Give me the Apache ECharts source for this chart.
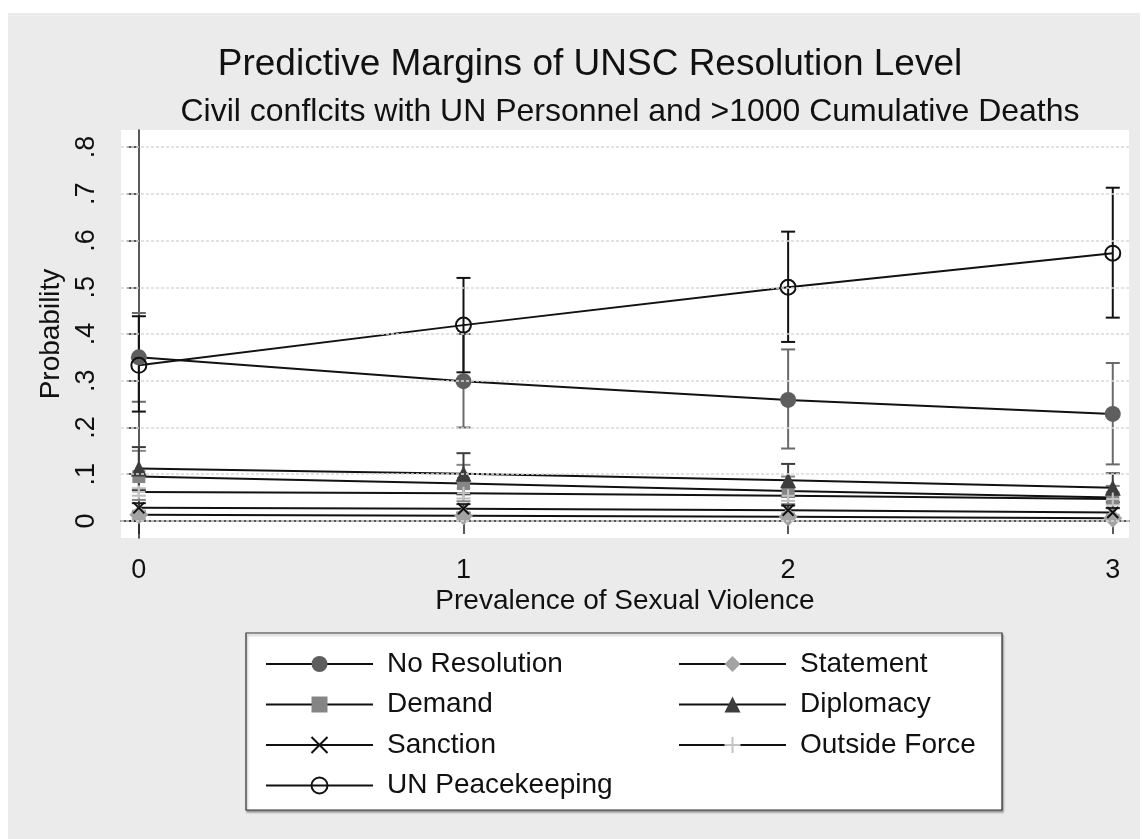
<!DOCTYPE html>
<html>
<head>
<meta charset="utf-8">
<script src="https://cdn.jsdelivr.net/npm/echarts@6/dist/echarts.min.js"></script>
<style>
  html, body { margin: 0; padding: 0; background: #fff; }
  #chart { width: 1143px; height: 839px; }
</style>
</head>
<body>
<div id="chart"></div>
<script>
// prevalence levels and axis ticks
const xValues = [0, 1, 2, 3];
const xTicks = [0, 1, 2, 3];
const yTicks = [0, 0.1, 0.2, 0.3, 0.4, 0.5, 0.6, 0.7, 0.8];

// predicted probabilities
const noResolution   = [0.350, 0.299, 0.259, 0.229];
const statement      = [0.013, 0.011, 0.009, 0.006];
const demand         = [0.095, 0.080, 0.064, 0.050];
const diplomacy      = [0.112, 0.101, 0.087, 0.071];
const sanction       = [0.028, 0.026, 0.023, 0.018];
const outsideForce   = [0.062, 0.059, 0.054, 0.047];
const unPeacekeeping = [0.333, 0.419, 0.500, 0.573];

// 95% confidence limits
const noResolutionLo   = [0.255, 0.200, 0.155, 0.121];
const noResolutionHi   = [0.445, 0.400, 0.367, 0.338];
const statementLo      = [0.004, 0.003, 0.002, 0.000];
const statementHi      = [0.022, 0.019, 0.016, 0.013];
const demandLo         = [0.045, 0.042, 0.036, 0.027];
const demandHi         = [0.150, 0.120, 0.095, 0.075];
const diplomacyLo      = [0.066, 0.057, 0.052, 0.040];
const diplomacyHi      = [0.158, 0.145, 0.122, 0.102];
const sanctionLo       = [0.018, 0.016, 0.013, 0.008];
const sanctionHi       = [0.038, 0.036, 0.033, 0.028];
const outsideForceLo   = [0.054, 0.048, 0.043, 0.035];
const outsideForceHi   = [0.070, 0.070, 0.065, 0.060];
const unPeacekeepingLo = [0.234, 0.318, 0.383, 0.435];
const unPeacekeepingHi = [0.438, 0.520, 0.619, 0.713];

const leftNames  = ['No Resolution', 'Demand', 'Sanction', 'UN Peacekeeping'];
const rightNames = ['Statement', 'Diplomacy', 'Outside Force'];

const FONT = '"Liberation Sans", Arial, Helvetica, sans-serif';

// marker looks, one per outcome
const looks = {
  'No Resolution':   { vals: noResolution, lo: noResolutionLo, hi: noResolutionHi, symbol: 'circle', size: 16, fill: '#5e5e5e', stroke: null, bar: '#6a6a6a' },
  'Statement':       { vals: statement, lo: statementLo, hi: statementHi, symbol: 'diamond', size: 19, fill: '#a3a3a3', stroke: null, bar: '#a3a3a3' },
  'Demand':          { vals: demand, lo: demandLo, hi: demandHi, symbol: 'rect', size: 13, fill: '#858585', stroke: null, bar: '#858585' },
  'Diplomacy':       { vals: diplomacy, lo: diplomacyLo, hi: diplomacyHi, symbol: 'triangle', size: 16, fill: '#3d3d3d', stroke: null, bar: '#3d3d3d' },
  'Sanction':        { vals: sanction, lo: sanctionLo, hi: sanctionHi, symbol: 'path://M0,0L10,10M0,10L10,0', size: 11, fill: 'rgba(0,0,0,0)', stroke: '#111', bar: '#222' },
  'Outside Force':   { vals: outsideForce, lo: outsideForceLo, hi: outsideForceHi, symbol: 'path://M5,0L5,10M0,5L10,5', size: 13, fill: 'rgba(0,0,0,0)', stroke: '#c4c4c4', bar: '#bdbdbd' },
  'UN Peacekeeping': { vals: unPeacekeeping, lo: unPeacekeepingLo, hi: unPeacekeepingHi, symbol: 'circle', size: 15, fill: 'rgba(0,0,0,0)', stroke: '#111', bar: '#111' }
};
const drawOrder = ['No Resolution', 'Statement', 'Demand', 'Diplomacy', 'Sanction', 'Outside Force', 'UN Peacekeeping'];

function errorBar(params, api) {
  const x = api.value(0);
  const top = api.coord([x, api.value(2)]);
  const bot = api.coord([x, api.value(1)]);
  const half = 7;
  const style = { stroke: api.visual('color'), lineWidth: 2 };
  return {
    type: 'group',
    children: [
      { type: 'line', shape: { x1: top[0], y1: top[1], x2: bot[0], y2: bot[1] }, style: style },
      { type: 'line', shape: { x1: top[0] - half, y1: top[1], x2: top[0] + half, y2: top[1] }, style: style },
      { type: 'line', shape: { x1: bot[0] - half, y1: bot[1], x2: bot[0] + half, y2: bot[1] }, style: style }
    ]
  };
}

let series = [];
// gridlines
series.push({
  type: 'line', data: [], silent: true,
  markLine: {
    silent: true, symbol: 'none', animation: false, label: { show: false },
    lineStyle: { color: '#d9d9d9', width: 1.5, type: [3, 2] },
    data: yTicks.map(v => ({ yAxis: v }))
  }
});
drawOrder.forEach(name => {
  let s = looks[name];
  series.push({
    name: name + ' CI',
    type: 'custom',
    renderItem: errorBar,
    itemStyle: { color: s.bar },
    data: xValues.map((x, i) => [x, s.lo[i], s.hi[i]]),
    encode: { x: 0, y: [1, 2] },
    z: 3,
    silent: true
  });
});
drawOrder.forEach(name => {
  let s = looks[name];
  series.push({
    name: name,
    type: 'line',
    data: xValues.map((x, i) => [x, s.vals[i]]),
    symbol: s.symbol,
    symbolSize: s.size,
    showAllSymbol: true,
    lineStyle: { color: '#111', width: 2 },
    itemStyle: s.stroke
      ? { color: s.fill, borderColor: s.stroke, borderWidth: 2 }
      : { color: s.fill, borderWidth: 0 },
    emphasis: { disabled: true },
    z: 4
  });
});

let chart = echarts.init(document.getElementById('chart'));
let legendCommon = {
  orient: 'vertical',
  top: 645,
  itemWidth: 107,
  itemHeight: 20,
  itemGap: 12.5,
  selectedMode: false,
  textStyle: { fontSize: 28, lineHeight: 28, color: '#111', fontFamily: FONT, padding: [0, 0, 0, 9] }
};

chart.setOption({
  animation: false,
  backgroundColor: '#fff',
  textStyle: { fontFamily: FONT },
  title: [
    { text: 'Predictive Margins of UNSC Resolution Level', left: 585, top: 41, textAlign: 'center',
      textStyle: { fontSize: 37, fontWeight: 'normal', color: '#111', fontFamily: FONT } },
    { text: 'Civil conflcits with UN Personnel and >1000 Cumulative Deaths', left: 625, top: 91, textAlign: 'center',
      textStyle: { fontSize: 32, fontWeight: 'normal', color: '#111', fontFamily: FONT } }
  ],
  graphic: [
    { type: 'rect', shape: { x: 8, y: 13, width: 1132, height: 826 }, style: { fill: '#ebebeb' }, z: -10, silent: true },
    { type: 'rect', shape: { x: 246, y: 633, width: 756, height: 177 },
      style: { fill: '#fff', stroke: '#333', lineWidth: 1.2, shadowColor: 'rgba(0,0,0,0.35)', shadowOffsetX: 1, shadowOffsetY: 2, shadowBlur: 2 },
      z: 1, silent: true }
  ],
  grid: { left: 121, right: 14, top: 130, bottom: 301, show: true, backgroundColor: '#fff', borderWidth: 0 },
  xAxis: {
    type: 'value', min: -0.055, max: 3.05,
    name: 'Prevalence of Sexual Violence', nameLocation: 'middle', nameGap: 49,
    nameTextStyle: { fontSize: 28, color: '#111', fontFamily: FONT },
    axisLine: { show: true, lineStyle: { color: '#222', width: 1.5 } },
    axisTick: { show: true, length: 13, customValues: xTicks, lineStyle: { color: '#222', width: 1.5 } },
    axisLabel: { customValues: xTicks, fontSize: 27, color: '#111', margin: 19, fontFamily: FONT },
    splitLine: { show: false }
  },
  yAxis: {
    type: 'value', min: -0.0365, max: 0.8365,
    name: 'Probability', nameLocation: 'middle', nameGap: 52,
    nameTextStyle: { fontSize: 28, color: '#111', fontFamily: FONT },
    axisLine: { show: true, lineStyle: { color: '#222', width: 1.5 } },
    axisTick: { show: true, length: 12, customValues: yTicks, lineStyle: { color: '#222', width: 1.5 } },
    axisLabel: {
      customValues: yTicks, rotate: 90, fontSize: 27, color: '#111', margin: 21, fontFamily: FONT,
      formatter: v => (v === 0 ? '0' : String(v).replace(/^0/, ''))
    },
    splitLine: { show: false }
  },
  legend: [
    Object.assign({ data: leftNames, left: 260 }, legendCommon),
    Object.assign({ data: rightNames, left: 673 }, legendCommon)
  ],
  series: series
});
</script>
</body>
</html>
